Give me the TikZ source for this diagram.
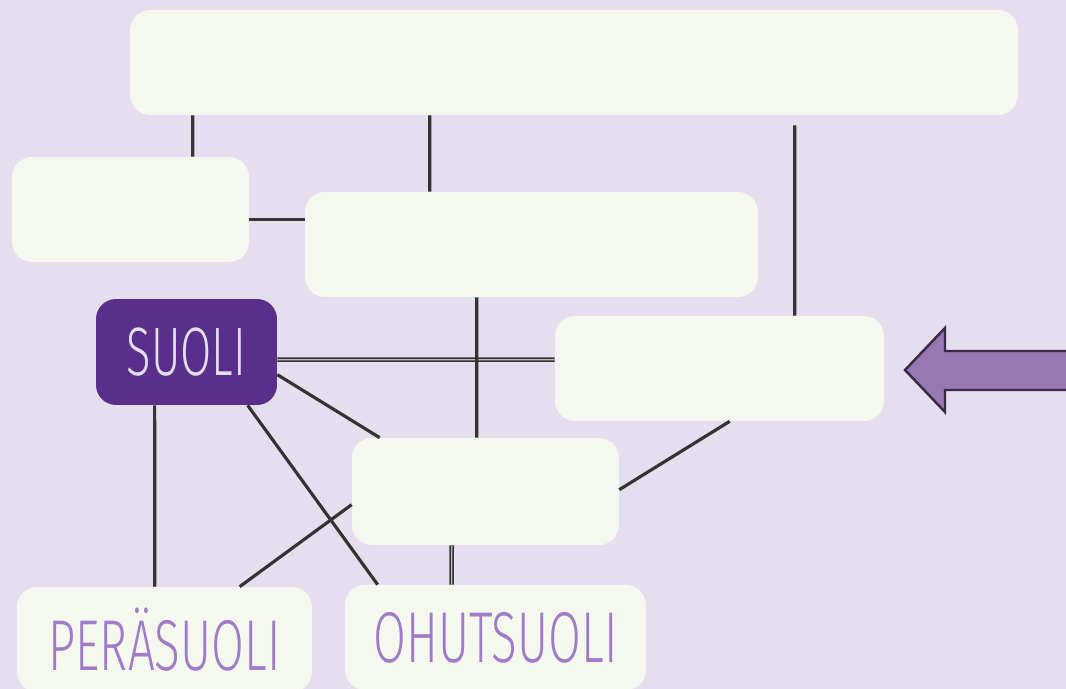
\documentclass[tikz,border=0pt]{standalone}
\usepackage{fontspec}
\usetikzlibrary{calc}
\newfontfamily\kapea[FakeStretch=0.66, UprightFont={* Light}]{Fira Sans}
\definecolor{tausta}{HTML}{E4DEEE}
\definecolor{laatikko}{HTML}{F5F8EF}
\definecolor{tumma}{HTML}{5A2E8B}
\definecolor{vaalea}{HTML}{A07BC7}
\definecolor{nuoli}{HTML}{9878B2}
\definecolor{reuna}{HTML}{3B2A45}
\definecolor{viiva}{HTML}{333333}
\tikzset{
    box/.style={fill=laatikko, rounded corners=0.4cm, inner sep=0pt},
    link/.style={draw=viiva, line width=1.8pt},
    twin/.style={draw=viiva, double=gray!55, double distance=0.7pt, line width=0.9pt},
}

\begin{document}
\begin{tikzpicture}[x=0.02cm, y=-0.02cm]
        \fill[tausta] (0,0) rectangle (1066,689);
        \useasboundingbox (0,0) rectangle (1066,689);
        \node[box, minimum width=17.76cm, minimum height=2.1cm] (ylin) at(574,62.5){}; % top
        \node[box, minimum width=4.74cm, minimum height=2.1cm] (vasen) at(130.5,209.5){};
        \node[box, minimum width=9.06cm, minimum height=2.1cm] (keski) at(531.5,244.5){};
        \node[box, fill=tumma, text=tausta, minimum width=3.62cm, minimum height=2.12cm] (suoli) at(186.5,352){\kapea\fontsize{39}{41}\selectfont SUOLI};
        \node[box, minimum width=6.58cm, minimum height=2.1cm] (oikea) at(719.5,368.5){};
        \node[box, minimum width=5.34cm, minimum height=2.14cm] (ala) at(485.5,491.5){};
        \node[box, text=vaalea, minimum width=5.9cm, minimum height=2.1cm] (perasuoli) at(164.5,639.5){\kapea\fontsize{41}{43}\selectfont PERÄSUOLI};
        \node[box, text=vaalea, minimum width=6.02cm, minimum height=2.1cm] (ohutsuoli) at(495.5,637.5){\kapea\fontsize{41}{43}\selectfont OHUTSUOLI};
        % links
        \draw[link]  ($(ylin.south west)+(63,0)$) -- ($(vasen.north west)+(181,0)$);
        \draw[link]  ($(ylin.south west)+(300,0)$) -- ($(keski.north west)+(125,0)$);
        \draw[link]  ($(ylin.south west)+(665,10)$) -- ($(oikea.north west)+(240,0)$);
        \draw[link]  ($(vasen.north east)+(0,63)$) -- ($(keski.north west)+(0,28)$);
        \draw[twin]  ($(suoli.north east)+(0,61)$) -- ($(oikea.north west)+(0,44)$);
        \draw[link]  ($(keski.south west)+(172,0)$) -- ($(ala.north west)+(125,0)$);
        \draw[link]  ($(suoli.north east)+(0,76)$) -- ($(ala.north west)+(28,0)$);
        \draw[link]  ($(suoli.south west)+(152,0)$) -- ($(ohutsuoli.north west)+(33,0)$);
        \draw[link]  ($(suoli.south west)+(59,0)$) -- ($(perasuoli.north west)+(138,0)$);
        \draw[link]  ($(ala.north west)+(0,67)$) -- ($(perasuoli.north west)+(223,0)$);
        \draw[link]  ($(ala.north east)+(0,52)$) -- ($(oikea.south west)+(175,0)$);
        \draw[twin]  ($(ala.south west)+(100,0)$) -- ($(ohutsuoli.north west)+(107,0)$);
        % arrow
        \draw[fill=nuoli, draw=reuna, line width=1.4pt] (1075,351) -- (945,351) -- (945,328) -- (905,370) -- (945,412) -- (945,390) -- (1075,390);
    \end{tikzpicture}
\end{document}
